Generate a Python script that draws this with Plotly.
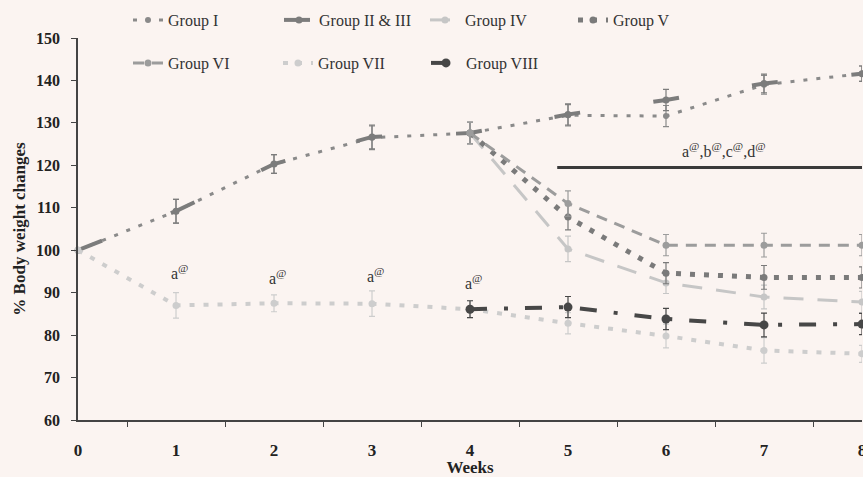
import plotly.graph_objects as go

weeks = [0, 1, 2, 3, 4, 5, 6, 7, 8]
weeks_late = [4, 5, 6, 7, 8]

group_i = [100, 109.2, 120.3, 126.5, 127.6, 131.8, 131.6, 139.0, 141.6]
group_ii_iii = [100, 109.2, 120.3, 126.7, 127.6, 132.0, 135.4, 139.3, 141.6]
group_iv = [127.6, 100.3, 92.3, 89.0, 87.8]
group_v = [127.6, 107.8, 94.6, 93.6, 93.6]
group_vi = [127.6, 111.0, 101.2, 101.2, 101.2]
group_vii = [100, 87.0, 87.5, 87.4, 86.1, 82.8, 79.8, 76.4, 75.6]
group_viii = [86.1, 86.6, 83.8, 82.4, 82.6]

err_i = [0.5, 2.8, 2.2, 2.8, 2.5, 2.5, 2.5, 2.2, 1.8]
err_ii_iii = [0.5, 2.8, 2.2, 2.8, 2.5, 2.5, 2.5, 2.2, 1.8]
err_iv = [2.5, 3.0, 2.5, 2.8, 2.5]
err_v = [2.5, 3.0, 2.5, 2.8, 2.5]
err_vi = [2.5, 3.0, 2.5, 2.8, 2.5]
err_vii = [0.5, 3.0, 2.0, 3.0, 2.0, 2.5, 2.8, 3.0, 2.0]
err_viii = [2.0, 2.5, 2.5, 2.8, 2.5]

sig_weeks = [1, 2, 3, 4]
sig_levels = [94.9, 93.7, 94.2, 92.5]
sig_label = "a<sup>@</sup>"
group_label = "a<sup>@</sup>,b<sup>@</sup>,c<sup>@</sup>,d<sup>@</sup>"

bg = "#fbf4f1"
serif = "Liberation Serif"

series = [
    ("Group I", weeks, group_i, err_i, "#8a8a8a", "4px,9px", 3, 6, "legend"),
    ("Group II & III", weeks, group_ii_iii, err_ii_iii, "#7c7c7c", "26px,74px", 4, 7, "legend2"),
    ("Group IV", weeks_late, group_iv, err_iv, "#c6c6c6", "20px,14px", 3, 7, "legend3"),
    ("Group V", weeks_late, group_v, err_v, "#7a7a7a", "5px,9px", 5, 7, "legend4"),
    ("Group VI", weeks_late, group_vi, err_vi, "#9c9c9c", "11px,8px", 3, 7, "legend5"),
    ("Group VII", weeks, group_vii, err_vii, "#cdcdcd", "5px,9px", 4, 7, "legend6"),
    ("Group VIII", weeks_late, group_viii, err_viii, "#474747", "17px,17px,4px,17px", 4, 9, "legend7"),
]

fig = go.Figure()
for name, xs, ys, es, col, dash, lw, ms, lg in series:
    fig.add_trace(go.Scatter(
        x=xs, y=ys, name=name, mode="lines+markers",
        line=dict(color=col, width=lw, dash=dash),
        marker=dict(color=col, size=ms, symbol="circle"),
        error_y=dict(type="data", array=es, visible=True, color=col,
                     thickness=1.2, width=3),
        cliponaxis=False, legend=lg,
    ))

for wk, lv in zip(sig_weeks, sig_levels):
    fig.add_annotation(x=wk + 0.04, y=lv, text=sig_label, showarrow=False,
                       font=dict(family=serif, size=16, color="#333"),
                       xanchor="center", yanchor="middle")

fig.add_annotation(x=6.59, y=123.6, text=group_label, showarrow=False,
                   font=dict(family=serif, size=16, color="#333"),
                   xanchor="center", yanchor="middle")
fig.add_shape(type="line", x0=4.89, x1=8.05, y0=119.5, y1=119.5,
              xref="x", yref="y", line=dict(color="#3a3a3a", width=3))

PL, PR, PT, PB = 78, 862, 38, 420
leg_pos = {
    "legend": (128, 20),
    "legend2": (279, 20),
    "legend3": (425, 20),
    "legend4": (573, 20),
    "legend5": (128, 63),
    "legend6": (278, 63),
    "legend7": (426, 63),
}
leg_kwargs = {}
for key, (lx, ly) in leg_pos.items():
    leg_kwargs[key] = dict(
        x=(lx - PL) / (PR - PL), y=(PB - ly) / (PB - PT),
        xref="paper", yref="paper",
        xanchor="left", yanchor="middle", bgcolor="rgba(0,0,0,0)",
        borderwidth=0, font=dict(family=serif, size=16, color="#333"),
        itemwidth=30, tracegroupgap=0,
    )

fig.update_layout(
    width=863, height=477,
    margin=dict(l=PL, r=863 - PR, t=PT, b=477 - PB, autoexpand=False),
    paper_bgcolor=bg, plot_bgcolor=bg,
    showlegend=True,
    **leg_kwargs,
)

fig.update_xaxes(
    range=[0, 8], showgrid=False, zeroline=False,
    showline=True, linecolor="#444", linewidth=1.5,
    tickmode="array", tickvals=weeks, ticktext=[str(w) for w in weeks],
    ticks="", ticklabelstandoff=14, ticklabeloverflow="allow",
    tickfont=dict(family=serif, size=17, color="#222", weight="bold"),
    minor=dict(tickvals=[w + 0.5 for w in weeks[:-1]], ticks="outside",
               ticklen=5, tickcolor="#444", tickwidth=1),
    title=dict(text="Weeks", standoff=6,
               font=dict(family=serif, size=17, color="#222", weight="bold")),
)
fig.update_yaxes(
    range=[60, 150], showgrid=False, zeroline=False,
    showline=True, linecolor="#444", linewidth=1.5,
    tickmode="linear", tick0=60, dtick=10,
    ticks="outside", ticklen=5, tickcolor="#444", ticklabelstandoff=8,
    tickfont=dict(family=serif, size=16, color="#222", weight="bold"),
    title=dict(text="% Body weight changes", standoff=6,
               font=dict(family=serif, size=17, color="#222", weight="bold")),
)

fig.write_html(
    "out.html",
    config={"displayModeBar": False},
    post_script="document.body.style.margin='0';document.body.style.background='" + bg + "';",
)
